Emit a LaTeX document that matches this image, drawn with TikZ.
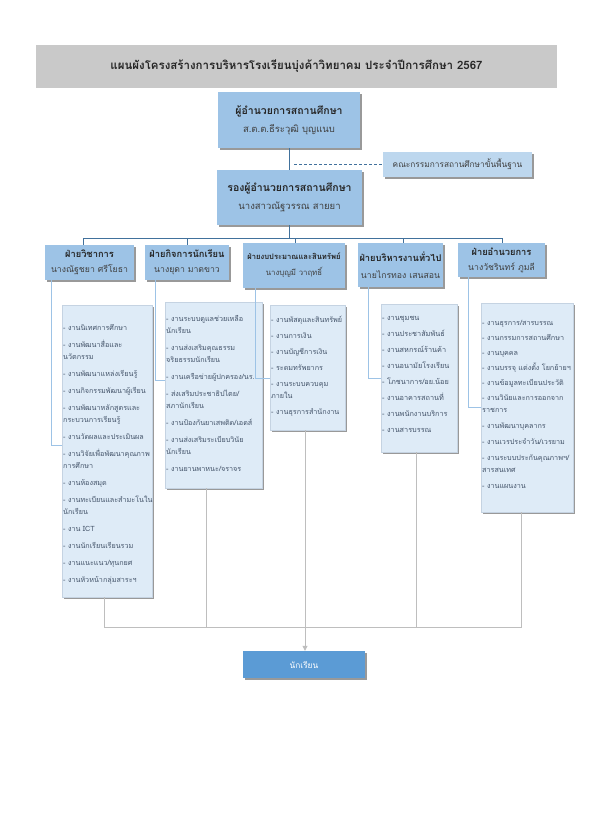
\documentclass[tikz,border=0pt]{standalone}
\usepackage{fontspec}
\setmainfont[Script=Thai]{Loma}
\usetikzlibrary{shadows,arrows.meta}
\definecolor{band}{HTML}{C9C9C9}
\definecolor{headblue}{HTML}{9DC3E6}
\definecolor{comblue}{HTML}{BDD7EE}
\definecolor{taskblue}{HTML}{DEEBF7}
\definecolor{taskedge}{HTML}{C5D3E2}
\definecolor{stublue}{HTML}{5B9BD5}
\definecolor{linedark}{HTML}{41719C}
\definecolor{linelight}{HTML}{9DC3E6}
\definecolor{linegray}{HTML}{BEBEBE}
\definecolor{txtdark}{HTML}{262626}
\definecolor{txtname}{HTML}{404040}
\definecolor{tasktxt}{HTML}{44546A}
\tikzset{
  shad/.style={drop shadow={shadow xshift=1.6pt,shadow yshift=-1.6pt,fill=black,opacity=0.4}},
  headbox/.style={shad,fill=headblue,draw=none,inner sep=1pt,align=center,text=txtdark},
  combox/.style={shad,fill=comblue,draw=none,inner sep=1pt,text=txtname,font=\fontsize{8.3}{10}\selectfont},
  taskbox/.style={shad,fill=taskblue,draw=taskedge,line width=0.4pt},
  tasktext/.style={anchor=north west,inner sep=0pt,align=left,text=tasktxt},
  topline/.style={draw=linedark,line width=0.8pt},
  subline/.style={draw=linelight,line width=0.8pt},
  botline/.style={draw=linegray,line width=0.8pt},
}
\newcommand{\hname}[1]{{\color{txtname}\fontsize{9.5}{12}\selectfont #1}}
\newcommand{\dname}[1]{{\color{txtname}\fontsize{8.7}{11}\selectfont #1}}
\begin{document}
\begin{tikzpicture}[x=1pt,y=-1pt]
\useasboundingbox (0,0) rectangle (593,829);
\fill[white] (0,0) rectangle (593,829);
% title band
\node[fill=band,minimum width=521pt,minimum height=43pt,inner sep=0pt,text=txtdark,font=\bfseries\fontsize{11.5}{14}\selectfont] (band) at (296.5,66.5) {แผนผังโครงสร้างการบริหารโรงเรียนบุ่งค้าวิทยาคม ประจำปีการศึกษา 2567};
% heads
\node[headbox,minimum width=142pt,minimum height=56pt] (dir) at (289,120)
  {{\bfseries\fontsize{10.5}{13}\selectfont ผู้อำนวยการสถานศึกษา}\\[6pt]\hname{ส.ต.ต.ธีระวุฒิ บุญแนบ}};
\node[headbox,minimum width=145pt,minimum height=55pt] (dep) at (289.5,197.5)
  {{\bfseries\fontsize{10.5}{13}\selectfont รองผู้อำนวยการสถานศึกษา}\\[6pt]\hname{นางสาวณัฐวรรณ สายยา}};
\node[combox,minimum width=149pt,minimum height=25pt] (com) at (457.5,164.5) {คณะกรรมการสถานศึกษาขั้นพื้นฐาน};
% divisions
\node[headbox,minimum width=89pt,minimum height=35pt] (d1) at (89.5,262.5)
  {{\bfseries\fontsize{9.3}{11}\selectfont ฝ่ายวิชาการ}\\[3pt]\dname{นางณัฐชยา ศรีโยธา}};
\node[headbox,minimum width=84pt,minimum height=35pt] (d2) at (187,262.5)
  {{\bfseries\fontsize{9.3}{11}\selectfont ฝ่ายกิจการนักเรียน}\\[3pt]\dname{นางยุดา มาตขาว}};
\node[headbox,minimum width=102pt,minimum height=45pt] (d3) at (294,265.5)
  {{\bfseries\fontsize{7.6}{10}\selectfont ฝ่ายงบประมาณและสินทรัพย์}\\[4pt]{\color{txtname}\fontsize{7.8}{10}\selectfont นางบุญมี วาฤทธิ์}};
\node[headbox,minimum width=85pt,minimum height=44pt] (d4) at (400.5,265)
  {{\bfseries\fontsize{9.3}{11}\selectfont ฝ่ายบริหารงานทั่วไป}\\[5pt]\dname{นายไกรทอง เสนสอน}};
\node[headbox,minimum width=87pt,minimum height=34pt] (d5) at (501.5,260)
  {{\bfseries\fontsize{9.3}{11}\selectfont ฝ่ายอำนวยการ}\\[3pt]\dname{นางวัชรินทร์ ภูมลี}};
% task boxes
\node[taskbox,minimum width=90pt,minimum height=292pt] (t1) at (107,451) {};
\node[taskbox,minimum width=97pt,minimum height=186pt] (t2) at (213.5,395) {};
\node[taskbox,minimum width=75pt,minimum height=125pt] (t3) at (307.5,367.5) {};
\node[taskbox,minimum width=76pt,minimum height=148pt] (t4) at (419,378) {};
\node[taskbox,minimum width=92pt,minimum height=209pt] (t5) at (527,407.5) {};
\node[tasktext,font=\fontsize{7.2}{12}\selectfont] (x1) at (63,324) {%
- งานนิเทศการศึกษา\\[5pt]
- งานพัฒนาสื่อและ\\นวัตกรรม\\[5pt]
- งานพัฒนาแหล่งเรียนรู้\\[5pt]
- งานกิจกรรมพัฒนาผู้เรียน\\[5pt]
- งานพัฒนาหลักสูตรและ\\กระบวนการเรียนรู้\\[5pt]
- งานวัดผลและประเมินผล\\[5pt]
- งานวิจัยเพื่อพัฒนาคุณภาพ\\การศึกษา\\[5pt]
- งานห้องสมุด\\[5pt]
- งานทะเบียนและสำมะโนใน\\นักเรียน\\[5pt]
- งาน ICT\\[5pt]
- งานนักเรียนเรียนรวม\\[5pt]
- งานแนะแนว/ทุนกยศ\\[5pt]
- งานหัวหน้ากลุ่มสาระฯ};
\node[tasktext,font=\fontsize{7.2}{12}\selectfont] (x2) at (166,315) {%
- งานระบบดูแลช่วยเหลือ\\นักเรียน\\[5pt]
- งานส่งเสริมคุณธรรม\\จริยธรรมนักเรียน\\[5pt]
- งานเครือข่ายผู้ปกครอง/นร.\\[5pt]
- ส่งเสริมประชาธิปไตย/\\สภานักเรียน\\[5pt]
- งานป้องกันยาเสพติด/เอดส์\\[5pt]
- งานส่งเสริมระเบียบวินัย\\นักเรียน\\[5pt]
- งานยานพาหนะ/จราจร};
\node[tasktext,font=\fontsize{7.2}{12}\selectfont] (x3) at (271,316) {%
- งานพัสดุและสินทรัพย์\\[4pt]
- งานการเงิน\\[4pt]
- งานบัญชีการเงิน\\[4pt]
- ระดมทรัพยากร\\[4pt]
- งานระบบควบคุม\\ภายใน\\[4pt]
- งานธุรการสำนักงาน};
\node[tasktext,font=\fontsize{7.3}{12}\selectfont] (x4) at (382,316) {%
- งานชุมชน\\[4pt]
- งานประชาสัมพันธ์\\[4pt]
- งานสหกรณ์ร้านค้า\\[4pt]
- งานอนามัยโรงเรียน\\[4pt]
- โภชนาการ/อย.น้อย\\[4pt]
- งานอาคารสถานที่\\[4pt]
- งานพนักงานบริการ\\[4pt]
- งานสารบรรณ};
\node[tasktext,font=\fontsize{7.2}{12}\selectfont] (x5) at (482,320) {%
- งานธุรการ/สารบรรณ\\[3pt]
- งานกรรมการสถานศึกษา\\[3pt]
- งานบุคคล\\[3pt]
- งานบรรจุ แต่งตั้ง โยกย้ายฯ\\[3pt]
- งานข้อมูลทะเบียนประวัติ\\[3pt]
- งานวินัยและการออกจาก\\ราชการ\\[4pt]
- งานพัฒนาบุคลากร\\[4pt]
- งานเวรประจำวัน/เวรยาม\\[4pt]
- งานระบบประกันคุณภาพฯ/\\สารสนเทศ\\[4pt]
- งานแผนงาน};
% student
\node[shad,fill=stublue,minimum width=122pt,minimum height=27pt,inner sep=0pt,text=white,font=\fontsize{8.3}{10}\selectfont] (stu) at (304,664.5) {นักเรียน};
% top connectors
\coordinate (dsh) at (294,166);
\coordinate (k1) at (83,238);
\coordinate (k2) at (187,238);
\coordinate (k3) at (295,238);
\coordinate (k4) at (403,238);
\coordinate (k5) at (502,238);
\draw[topline] (dir.south) -- (dir.south |- dep.north);
\draw[topline,dash pattern=on 3pt off 2pt,line width=0.6pt] (dsh |- com.west) -- (com.west);
\draw[topline] (dep.south) -- (dep.south |- k1);
\draw[topline] (k1 |- d1.north) -- (k1) -- (k5) -- (k5 |- d5.north);
\draw[topline] (k2) -- (k2 |- d2.north);
\draw[topline] (k3) -- (k3 |- d3.north);
\draw[topline] (k4) -- (k4 |- d4.north);
% division to task
\coordinate (s1) at (51,445);
\coordinate (s2) at (155,380);
\coordinate (s3) at (255,378);
\coordinate (s4) at (368,378);
\coordinate (s5) at (468,407);
\draw[subline] (s1 |- d1.south) -- (s1) -- (s1 -| t1.west);
\draw[subline] (s2 |- d2.south) -- (s2) -- (s2 -| t2.west);
\draw[subline] (s3 |- d3.south) -- (s3) -- (s3 -| t3.west);
\draw[subline] (s4 |- d4.south) -- (s4) -- (s4 -| t4.west);
\draw[subline] (s5 |- d5.south) -- (s5) -- (s5 -| t5.west);
% bottom
\coordinate (b1) at (104,627);
\coordinate (b2) at (206,627);
\coordinate (b3) at (305,627);
\coordinate (b4) at (416,627);
\coordinate (b5) at (521,627);
\draw[botline] (b1 |- t1.south) -- (b1) -- (b5) -- (b5 |- t5.south);
\draw[botline] (b2 |- t2.south) -- (b2);
\draw[botline] (b4 |- t4.south) -- (b4);
\draw[botline,-{Triangle[width=5pt,length=5pt]}] (b3 |- t3.south) -- (b3 |- stu.north);
\end{tikzpicture}
\end{document}
